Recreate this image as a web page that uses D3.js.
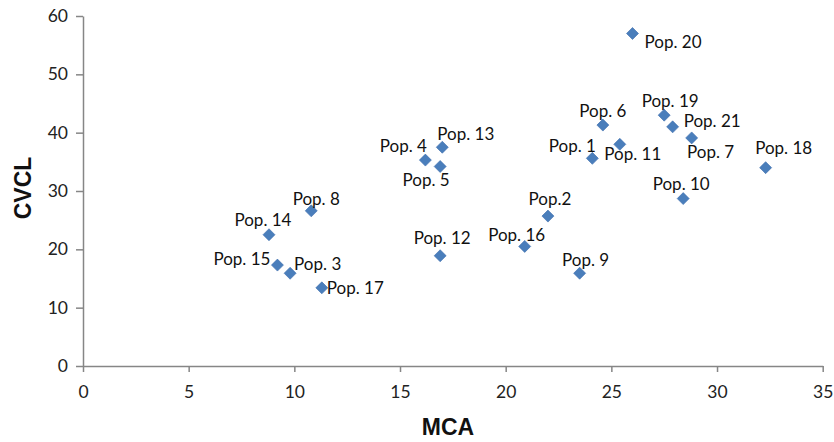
<!DOCTYPE html>
<html>
<head>
<meta charset="utf-8">
<script src="https://cdn.jsdelivr.net/npm/d3@7"></script>
<style>
  body { margin: 0; background: #fff; }
  svg { display: block; }
</style>
</head>
<body>
<div id="chart"></div>
<script>
const width = 834;
const height = 442;

const margin = { top: 16, right: 11, bottom: 76, left: 83 };

// data
const labels = ['Pop. 20', 'Pop. 6', 'Pop. 19', 'Pop. 21', 'Pop. 7', 'Pop. 11', 'Pop. 1',
    'Pop. 13', 'Pop. 4', 'Pop. 5', 'Pop. 18', 'Pop. 10', 'Pop.2', 'Pop. 8', 'Pop. 14',
    'Pop. 15', 'Pop. 3', 'Pop. 17', 'Pop. 12', 'Pop. 16', 'Pop. 9'];
const mcaValues = [26.0, 24.6, 27.5, 27.9, 28.8, 25.4, 24.1, 17.0, 16.2, 16.9, 32.3, 28.4,
    22.0, 10.8, 8.8, 9.2, 9.8, 11.3, 16.9, 20.9, 23.5];
const cvclValues = [57.0, 41.3, 43.0, 41.0, 39.1, 38.0, 35.6, 37.5, 35.3, 34.2, 34.0, 28.7,
    25.7, 26.6, 22.5, 17.3, 15.9, 13.4, 18.9, 20.5, 15.9];
const xTicks = [0, 5, 10, 15, 20, 25, 30, 35];
const yTicks = [0, 10, 20, 30, 40, 50, 60];

// label placement relative to the marker: anchor, dx, dy (text centre)
const labelPlacement = [
    ['start', 12, 8], ['middle', 0, -15], ['middle', 6, -15], ['start', 11, -6],
    ['middle', 19, 14], ['middle', 13, 9], ['middle', -20, -13], ['start', -5, -14],
    ['middle', -22, -15], ['middle', -14, 13], ['middle', 18, -20], ['middle', -2, -15],
    ['middle', 2, -18], ['middle', 5, -12], ['middle', -6, -15], ['end', -7, -7],
    ['start', 4, -10], ['start', 5, 0], ['middle', 2, -18], ['middle', -8, -12],
    ['middle', 6, -14]
];

const data = labels.map((d, i) => ({
    label: d,
    mca: mcaValues[i],
    cvcl: cvclValues[i],
    place: labelPlacement[i]
}));

const svg = d3.select('#chart').append('svg')
    .attr('width', width)
    .attr('height', height);

const xScale = d3.scaleLinear()
    .domain([0, 35])
    .range([margin.left, width - margin.right - 0.3]);

const yScale = d3.scaleLinear()
    .domain([0, 60])
    .range([height - margin.bottom, margin.top]);

const axisColor = '#868686';
const font = 'Lato, "Open Sans", sans-serif';

// x axis
const xAxis = svg.append('g')
    .attr('transform', `translate(0,${yScale(0)})`)
    .call(d3.axisBottom(xScale).tickValues(xTicks).tickSize(6).tickPadding(14).tickSizeOuter(0));

// y axis
const yAxis = svg.append('g')
    .attr('transform', `translate(${xScale(0)},0)`)
    .call(d3.axisLeft(yScale).tickValues(yTicks).tickSize(7).tickPadding(8).tickSizeOuter(0));

[xAxis, yAxis].forEach(ax => {
    ax.select('.domain').attr('stroke', axisColor).attr('stroke-width', 1.5);
    ax.selectAll('.tick line').attr('stroke', axisColor).attr('stroke-width', 1.5);
    ax.selectAll('.tick text')
        .attr('fill', '#222')
        .attr('font-family', font)
        .attr('font-size', '17.5px');
});

// axis titles
svg.append('text')
    .attr('x', 448)
    .attr('y', 435)
    .attr('text-anchor', 'middle')
    .attr('font-family', 'Liberation Sans, Arial, sans-serif')
    .attr('font-weight', 'bold')
    .attr('font-size', '23px')
    .attr('fill', '#111')
    .text('MCA');

svg.append('text')
    .attr('transform', 'translate(31,188) rotate(-90)')
    .attr('text-anchor', 'middle')
    .attr('font-family', 'Liberation Sans, Arial, sans-serif')
    .attr('font-weight', 'bold')
    .attr('font-size', '23px')
    .attr('fill', '#111')
    .text('CVCL');

// markers
const diamond = d3.symbol().type(d3.symbolSquare).size(72);

svg.selectAll('.point')
    .data(data)
    .join('path')
    .attr('class', 'point')
    .attr('d', diamond)
    .attr('transform', d => `translate(${xScale(d.mca)},${yScale(d.cvcl)}) rotate(45)`)
    .attr('fill', '#4a7ebb')
    .attr('stroke', '#3f6fae')
    .attr('stroke-width', 0.6);

// point labels
svg.selectAll('.point-label')
    .data(data)
    .join('text')
    .attr('class', 'point-label')
    .attr('x', d => xScale(d.mca) + d.place[1])
    .attr('y', d => yScale(d.cvcl) + d.place[2])
    .attr('text-anchor', d => d.place[0])
    .attr('dominant-baseline', 'central')
    .attr('font-family', font)
    .attr('font-size', '17px')
    .attr('fill', '#111')
    .text(d => d.label);
</script>
</body>
</html>
